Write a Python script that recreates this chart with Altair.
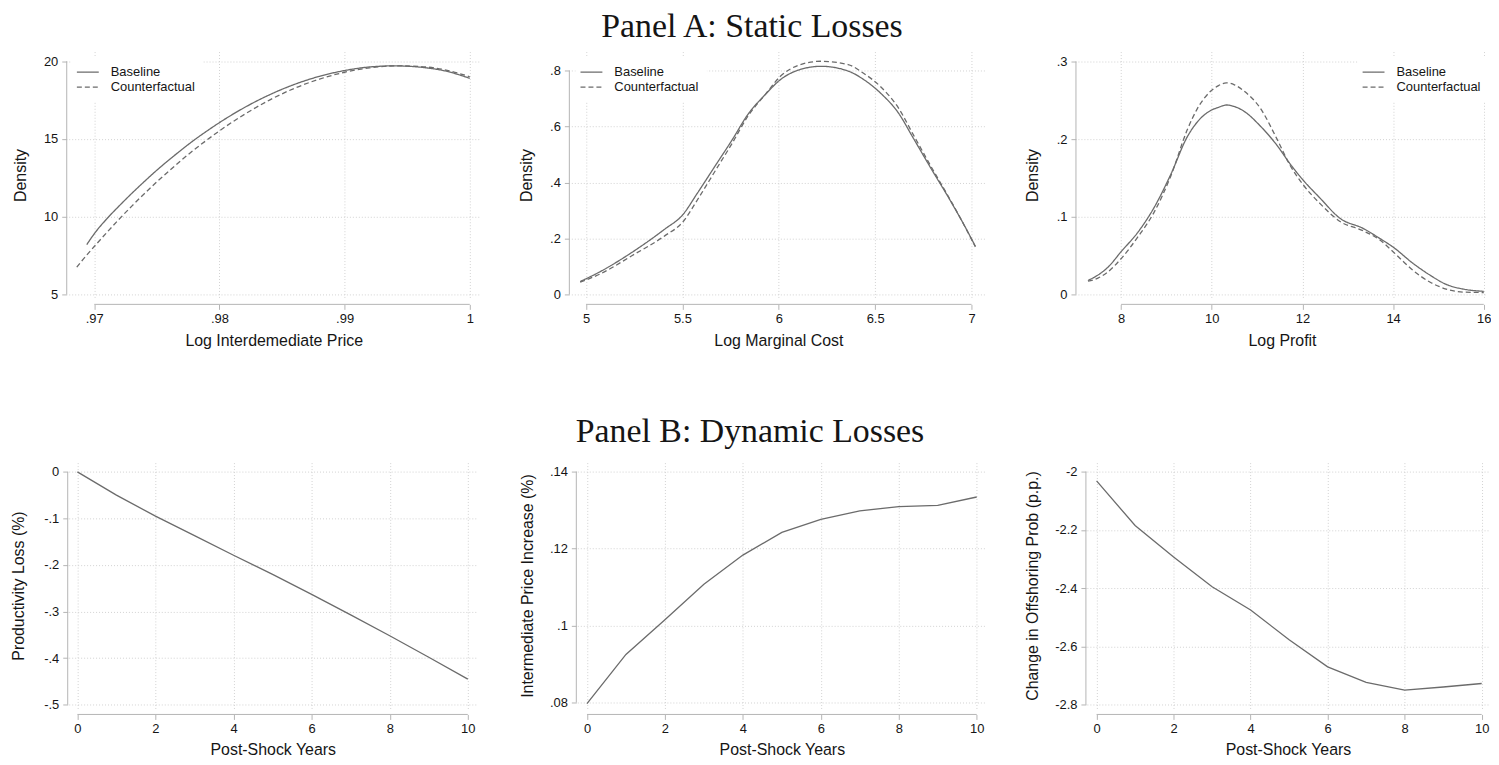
import altair as alt
import pandas as pd

# ---------------- data ----------------
# Panel A, chart 1: Log Intermediate Price densities
a1_base_x = [0.9694, 0.9700, 0.9710, 0.9720, 0.9730, 0.9740, 0.9750, 0.9760, 0.9770, 0.9780, 0.9790,
             0.9800, 0.9820, 0.9840, 0.9860, 0.9880, 0.9900, 0.9920, 0.9940, 0.9960, 0.9980, 1.0000]
a1_base_y = [8.2, 8.9, 9.86, 10.7, 11.5, 12.26, 12.99, 13.67, 14.32, 14.94, 15.51,
             16.05, 17.02, 17.84, 18.51, 19.03, 19.4, 19.63, 19.7, 19.62, 19.38, 18.9]
a1_cf_x = [0.9686, 0.9690, 0.9700, 0.9710, 0.9720, 0.9730, 0.9740, 0.9750, 0.9760, 0.9770, 0.9780, 0.9790,
           0.9800, 0.9820, 0.9840, 0.9860, 0.9880, 0.9900, 0.9920, 0.9940, 0.9960, 0.9980, 1.0000]
a1_cf_y = [6.75, 7.15, 8.08, 8.98, 9.85, 10.68, 11.48, 12.24, 12.96, 13.66, 14.32, 14.93,
           15.52, 16.58, 17.5, 18.26, 18.85, 19.29, 19.57, 19.7, 19.66, 19.45, 19.0]

# Panel A, chart 2: Log Marginal Cost densities
a2_x = [4.97, 5.07, 5.24, 5.41, 5.50, 5.58, 5.67, 5.76, 5.84, 5.93, 6.01,
        6.10, 6.22, 6.36, 6.44, 6.53, 6.62, 6.70, 6.79, 6.88, 6.96, 7.02]
a2_base_y = [0.046, 0.080, 0.151, 0.234, 0.283, 0.364, 0.459, 0.554, 0.643, 0.714, 0.768,
             0.801, 0.815, 0.798, 0.768, 0.718, 0.649, 0.556, 0.450, 0.347, 0.250, 0.172]
a2_cf_y = [0.044, 0.072, 0.139, 0.210, 0.257, 0.340, 0.441, 0.542, 0.637, 0.714, 0.780,
           0.818, 0.833, 0.821, 0.790, 0.741, 0.667, 0.568, 0.457, 0.350, 0.250, 0.170]

# Panel A, chart 3: Log Profit densities
a3_x = [7.27, 7.49, 7.71, 8.00, 8.37, 8.73, 9.10, 9.46, 9.68, 9.98, 10.15, 10.32, 10.50, 10.71,
        11.07, 11.44, 11.73, 12.02, 12.39, 12.83, 13.34, 13.71, 14.00, 14.44, 14.81, 15.17, 15.54, 16.00]
a3_base_y = [0.018, 0.025, 0.035, 0.055, 0.080, 0.112, 0.155, 0.203, 0.222, 0.237, 0.241, 0.244, 0.242, 0.236,
             0.217, 0.192, 0.168, 0.147, 0.124, 0.098, 0.085, 0.072, 0.061, 0.040, 0.025, 0.013, 0.007, 0.004]
a3_cf_y = [0.017, 0.021, 0.029, 0.046, 0.074, 0.106, 0.153, 0.212, 0.239, 0.262, 0.269, 0.2725, 0.270, 0.262,
           0.240, 0.200, 0.166, 0.141, 0.117, 0.094, 0.082, 0.070, 0.055, 0.031, 0.016, 0.007, 0.003, 0.0025]

# Panel B: post-shock years
years = [0, 1, 2, 3, 4, 5, 6, 7, 8, 9, 10]
productivity_loss = [0.0, -0.050, -0.095, -0.137, -0.179, -0.220, -0.263, -0.307, -0.352, -0.398, -0.445]
price_increase = [0.0797, 0.0925, 0.1015, 0.1107, 0.1183, 0.1242, 0.1276, 0.1298, 0.1309, 0.1312, 0.1334]
offshoring_change = [-2.032, -2.185, -2.293, -2.395, -2.475, -2.577, -2.670, -2.723, -2.750, -2.739, -2.727]

series_names = ["Baseline", "Counterfactual"]

# ---------------- style ----------------
LINE = "#6b6b6b"
AXIS = "#b4b4b4"
GRID = "#d2d2d2"
TEXT = "#151515"
SANS = "Liberation Sans"
SERIF = "Liberation Serif"
LABEL_EXPR = ("replace(replace(format(datum.value, '~g'), '\u2212', '-'), "
              "regexp('^(-?)0[.]'), '$1.')")


def x_axis(title, ticks, pad):
    return alt.Axis(title=title, values=ticks, labelExpr=LABEL_EXPR, offset=6, titlePadding=pad)


def y_axis(title, ticks, title_x, offset):
    return alt.Axis(title=title, values=ticks, labelExpr=LABEL_EXPR, offset=offset, titleX=title_x)


def frame(xticks, yticks, h, yoff):
    one = pd.DataFrame({"k": [0]})
    xl = alt.Chart(one).mark_rule(color=AXIS, strokeWidth=1).encode(
        x=alt.datum(xticks[0]), x2=alt.datum(xticks[-1]), y=alt.value(h + 6))
    yl = alt.Chart(one).mark_rule(color=AXIS, strokeWidth=1).encode(
        y=alt.datum(yticks[0]), y2=alt.datum(yticks[-1]), x=alt.value(-yoff))
    return xl, yl


def density_panel(bx, by, cx, cy, xdom, ydom, xticks, yticks, xtitle, w, h, legx, legy, title_x):
    df = pd.DataFrame({
        "x": list(bx) + list(cx),
        "y": list(by) + list(cy),
        "series": [series_names[0]] * len(bx) + [series_names[1]] * len(cx),
    })
    lines = alt.Chart(df).mark_line(color=LINE, strokeWidth=1.3, interpolate="monotone").encode(
        x=alt.X("x:Q", scale=alt.Scale(domain=xdom, nice=False, zero=False),
                axis=x_axis(xtitle, xticks, 7)),
        y=alt.Y("y:Q", scale=alt.Scale(domain=ydom, nice=False, zero=False),
                axis=y_axis("Density", yticks, title_x, 2)),
        strokeDash=alt.StrokeDash(
            "series:N",
            scale=alt.Scale(domain=series_names, range=[[1, 0], [5, 3]]),
            legend=alt.Legend(
                title=None, orient="none", legendX=legx, legendY=legy, direction="vertical",
                symbolType="M-1.5,0H1.5", symbolSize=215, symbolStrokeWidth=1.3,
                symbolStrokeColor=LINE, symbolFillColor="transparent",
                labelFont=SANS, labelFontSize=13, labelColor=TEXT, labelOffset=15,
                fillColor="white", padding=8, rowPadding=0,
            ),
        ),
    )
    xl, yl = frame(xticks, yticks, h, 2)
    return alt.layer(lines, xl, yl).properties(width=w, height=h)


def dynamic_panel(values, ydom, yticks, ytitle, w, h, title_x, xdom):
    df = pd.DataFrame({"year": years, "value": values})
    xticks = [0, 2, 4, 6, 8, 10]
    line = alt.Chart(df).mark_line(color=LINE, strokeWidth=1.3).encode(
        x=alt.X("year:Q", scale=alt.Scale(domain=xdom, nice=False, zero=False),
                axis=x_axis("Post-Shock Years", xticks, 6)),
        y=alt.Y("value:Q", scale=alt.Scale(domain=ydom, nice=False, zero=False),
                axis=y_axis(ytitle, yticks, title_x, 1)),
    )
    xl, yl = frame(xticks, yticks, h, 1)
    return alt.layer(line, xl, yl).properties(width=w, height=h)


c1 = density_panel(a1_base_x, a1_base_y, a1_cf_x, a1_cf_y, [0.96796, 1.00072], [4.744, 20.62],
                   [0.97, 0.98, 0.99, 1.0], [5, 10, 15, 20], "Log Interdemediate Price",
                   412, 248, 3.2, 4.7, -38)
c2 = density_panel(a2_x, a2_base_y, a2_x, a2_cf_y, [4.924, 7.072], [-0.0142, 0.8676],
                   [5, 5.5, 6, 6.5, 7], [0, 0.2, 0.4, 0.6, 0.8], "Log Marginal Cost",
                   416, 248, 4.2, 4.7, -35)
c3 = density_panel(a3_x, a3_base_y, a3_x, a3_cf_y, [7.049, 16.05], [-0.0051, 0.3128],
                   [8, 10, 12, 14, 16], [0, 0.1, 0.2, 0.3], "Log Profit",
                   410, 248, 281, 4.7, -35.7)

c4 = dynamic_panel(productivity_loss, [-0.5081, 0.0199], [-0.5, -0.4, -0.3, -0.2, -0.1, 0],
                   "Productivity Loss (%)", 410, 247, -41, [-0.222, 10.23])
c5 = dynamic_panel(price_increase, [0.07845, 0.14233], [0.08, 0.1, 0.12, 0.14],
                   "Intermediate Price Increase (%)", 411, 247, -41.3, [-0.248, 10.248])
c6 = dynamic_panel(offshoring_change, [-2.8126, -1.9693], [-2.8, -2.6, -2.4, -2.2, -2],
                   "Change in Offshoring Prob (p.p.)", 404, 247, -46, [-0.251, 10.19])


def panel_title(text, offset):
    return alt.TitleParams(text, font=SERIF, fontSize=34, fontWeight="normal", anchor="middle",
                           offset=offset, color=TEXT)


rowA = alt.hconcat(c1, c2, c3, spacing=93, bounds="flush",
                   title=panel_title("Panel A: Static Losses", 8)) \
    .resolve_scale(strokeDash="independent").resolve_legend(strokeDash="independent")
rowB = alt.hconcat(c4, c5, c6, spacing=101, bounds="flush",
                   title=panel_title("Panel B: Dynamic Losses", 14))

chart = alt.vconcat(rowA, rowB, spacing=67).resolve_scale(strokeDash="independent") \
    .resolve_legend(strokeDash="independent").properties(
    padding={"left": 2, "top": 0, "right": 0, "bottom": 0}, background="white"
).configure_view(stroke=None).configure_axis(
    labelFont=SANS, labelFontSize=13, labelColor=TEXT,
    titleFont=SANS, titleFontSize=16, titleFontWeight="normal", titleColor=TEXT,
    tickColor=AXIS, tickSize=5, tickWidth=1, domain=False,
    grid=True, gridColor=GRID, gridDash=[1, 2], gridWidth=1,
    labelFlush=False, labelOverlap=False,
).configure_axisX(labelPadding=3).configure_axisY(labelPadding=4)

chart.save("out.html", embed_options={"renderer": "svg", "actions": False})
